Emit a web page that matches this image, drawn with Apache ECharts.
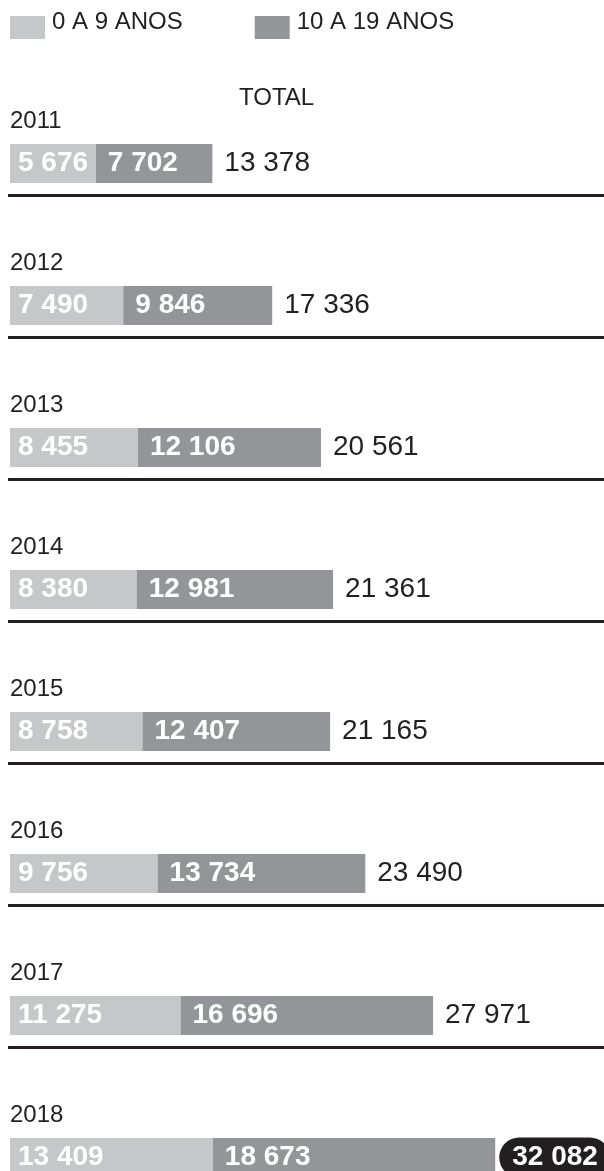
<!DOCTYPE html>
<html>
<head>
<meta charset="utf-8">
<title>0 a 19 anos</title>
<script src="https://cdn.jsdelivr.net/npm/echarts@6/dist/echarts.min.js"></script>
<style>
  html, body { margin: 0; padding: 0; background: #fff; }
  #chart { width: 604px; height: 1171px; }
</style>
</head>
<body>
<div id="chart"></div>
<script>
// dados por ano
var years = ['2011', '2012', '2013', '2014', '2015', '2016', '2017', '2018'];
var ages0to9 = [5676, 7490, 8455, 8380, 8758, 9756, 11275, 13409];
var ages10to19 = [7702, 9846, 12106, 12981, 12407, 13734, 16696, 18673];
var totals = [13378, 17336, 20561, 21361, 21165, 23490, 27971, 32082];
var seriesNames = ['0 A 9 ANOS', '10 A 19 ANOS'];

var FONT = '"Liberation Sans", Arial, sans-serif';
var INK = '#231f20';

function fmt(v) {
  return String(v).replace(/\B(?=(\d{3})+(?!\d))/g, ' ');
}

var chart = echarts.init(document.getElementById('chart'));

var option = {
  backgroundColor: '#fff',
  animation: false,
  textStyle: { fontFamily: FONT },
  title: {
    text: 'TOTAL',
    left: 239,
    top: 86,
    padding: 0,
    textStyle: { fontFamily: FONT, fontSize: 24, fontWeight: 'normal', color: INK }
  },
  legend: {
    data: seriesNames,
    left: 10,
    top: 10,
    padding: 0,
    itemWidth: 35,
    itemHeight: 23,
    itemGap: 72,
    icon: 'rect',
    formatter: '{a|{name}}',
    textStyle: {
      fontFamily: FONT, fontSize: 24, color: INK,
      rich: { a: { fontFamily: FONT, fontSize: 24, color: INK, padding: [0, 0, 11, 2] } }
    }
  },
  grid: {
    left: 10,
    top: 92.5,
    width: 605,
    height: 1136,
    containLabel: false,
    outerBoundsMode: 'none'
  },
  xAxis: {
    type: 'value',
    min: 0,
    max: 40000,
    show: false
  },
  yAxis: {
    type: 'category',
    data: years,
    inverse: true,
    show: false
  },
  series: [
    {
      name: seriesNames[0],
      type: 'bar',
      stack: 'total',
      barWidth: 39,
      itemStyle: { color: '#c6c7c9' },
      label: {
        show: true,
        position: 'insideLeft',
        distance: 8,
        color: '#fff',
        fontFamily: FONT,
        fontSize: 28,
        fontWeight: 'bold',
        formatter: function (p) { return fmt(p.value); }
      },
      data: ages0to9
    },
    {
      name: seriesNames[1],
      type: 'bar',
      stack: 'total',
      barWidth: 39,
      itemStyle: { color: '#939598' },
      label: {
        show: true,
        position: 'insideLeft',
        distance: 12,
        color: '#fff',
        fontFamily: FONT,
        fontSize: 28,
        fontWeight: 'bold',
        formatter: function (p) { return fmt(p.value); }
      },
      data: ages10to19
    },
    {
      // rotulo do total, colado no fim da barra escura
      name: 'total',
      type: 'bar',
      stack: 'total',
      barWidth: 39,
      itemStyle: { color: 'transparent' },
      silent: true,
      label: {
        show: true,
        position: 'insideLeft',
        distance: 12,
        formatter: function (p) {
          var i = p.dataIndex;
          if (i === years.length - 1) return '{pill|' + fmt(totals[i]) + '}';
          return '{t|' + fmt(totals[i]) + '}';
        },
        rich: {
          t: { fontFamily: FONT, fontSize: 28, color: INK },
          pill: {
            fontFamily: FONT, fontSize: 28, fontWeight: 'bold', color: '#fff',
            backgroundColor: INK, borderRadius: 21, padding: [6, 12, 6, 13]
          }
        }
      },
      data: totals.map(function (t, i) {
        if (i === years.length - 1) return { value: 0.0001, label: { distance: 4 } };
        return 0.0001;
      })
    },
    {
      // ano acima de cada barra
      type: 'custom',
      silent: true,
      clip: false,
      renderItem: function (params, api) {
        var p = api.coord([0, api.value(1)]);
        return {
          type: 'text',
          x: p[0],
          y: p[1] - 42,
          style: {
            text: years[params.dataIndex],
            fill: INK,
            font: '24px ' + FONT,
            align: 'left',
            verticalAlign: 'middle'
          }
        };
      },
      data: years.map(function (y) { return [0, y]; })
    },
    {
      // linhas separadoras entre os anos
      type: 'custom',
      silent: true,
      clip: false,
      renderItem: function (params, api) {
        var p = api.coord([0, api.value(1)]);
        return {
          type: 'line',
          shape: { x1: p[0] - 2, y1: p[1] + 32, x2: 604, y2: p[1] + 32 },
          style: { stroke: INK, lineWidth: 3 }
        };
      },
      data: years.slice(0, years.length - 1).map(function (y) { return [0, y]; })
    }
  ]
};

chart.setOption(option);
</script>
</body>
</html>
